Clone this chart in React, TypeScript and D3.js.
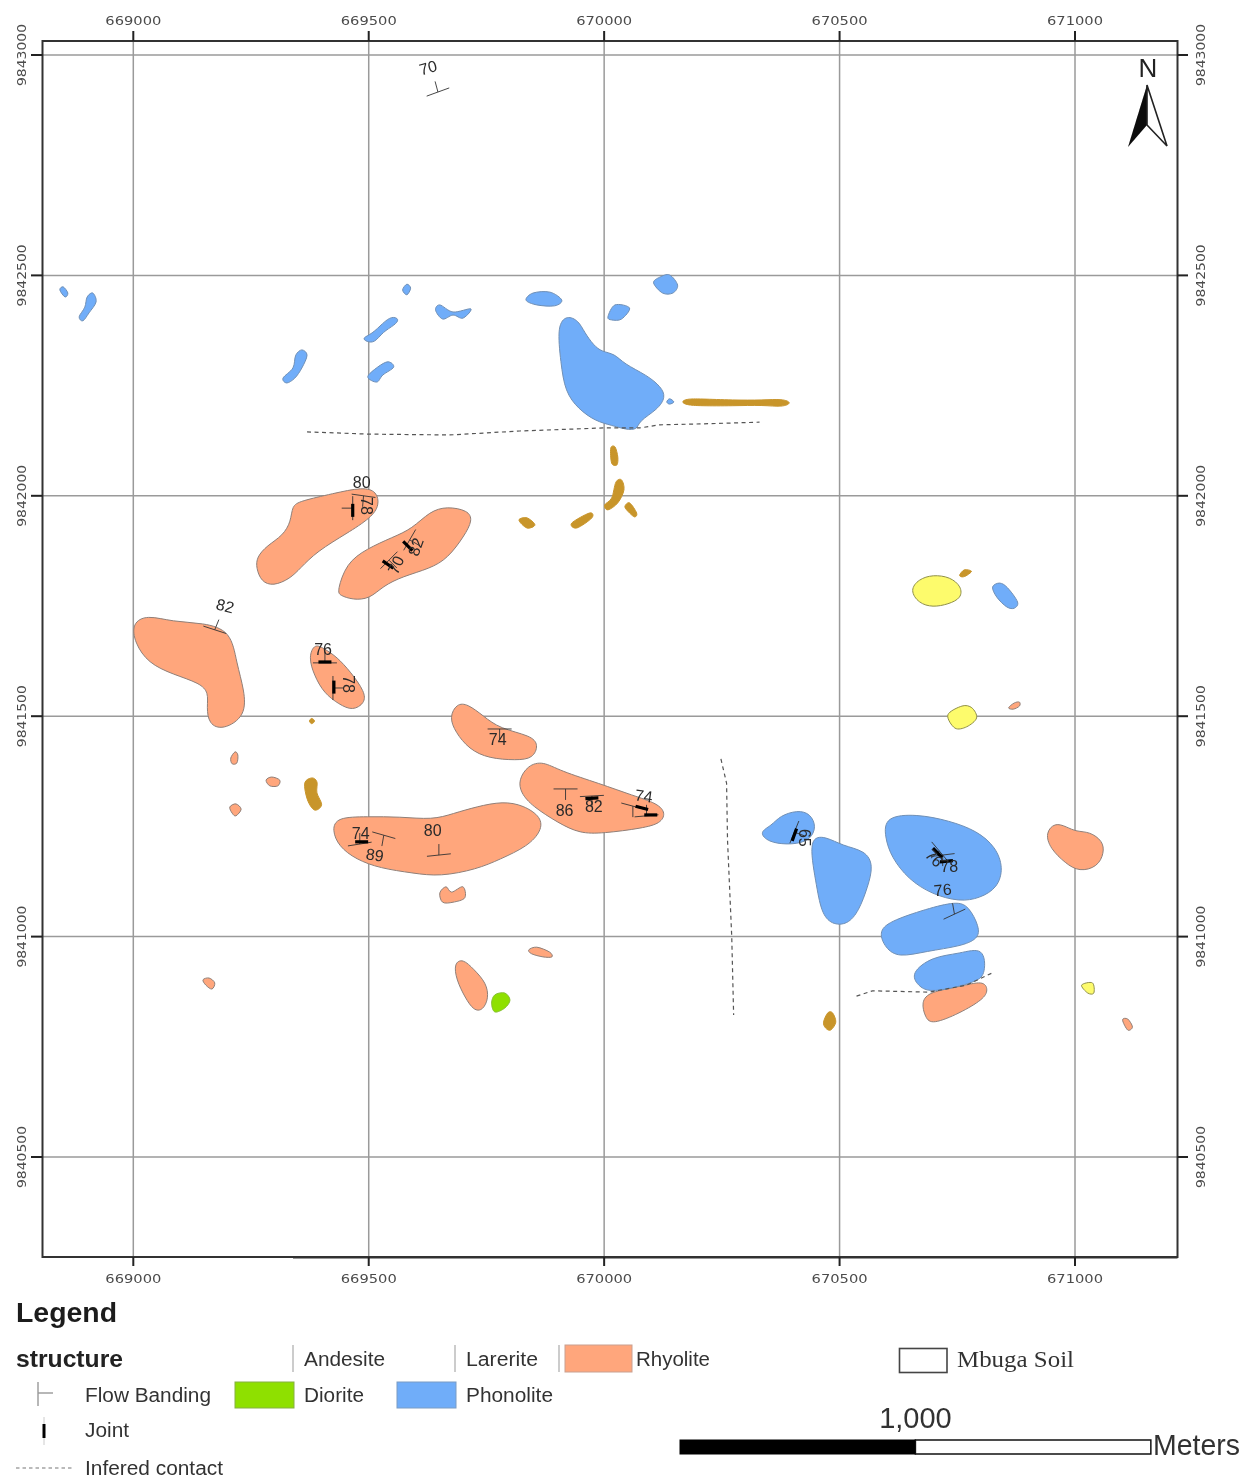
import React from "react";
import * as d3 from "d3";

// All map data are metres east of 669000 and north of 9840000.
type P = [number, number];
const EAST0 = 669000;
const NORTH0 = 9840000;
const eastingTicks = [669000, 669500, 670000, 670500, 671000];
const northingTicks = [9843000, 9842500, 9842000, 9841500, 9841000, 9840500];

const rhyolite: P[][] = [
  [[-3,1711],[29,1730],[84,1714],[148,1712],[208,1694],[219,1621],[236,1559],[239,1500],[190,1468],[160,1482],[156,1521],[160,1553],[142,1575],[84,1595],[32,1620],[3,1666]],
  [[262,1861],[284,1887],[318,1910],[335,1942],[337,1977],[354,1988],[424,2005],[488,2020],[517,2010],[523,1979],[505,1950],[454,1915],[390,1874],[354,1835],[333,1812],[297,1795],[272,1805],[261,1836]],
  [[433,1783],[452,1847],[496,1880],[551,1906],[592,1925],[630,1965],[666,1976],[711,1967],[721,1945],[703,1909],[668,1858],[630,1835],[572,1817],[530,1795],[502,1766],[466,1764],[439,1774]],
  [[372,1634],[385,1666],[407,1652],[432,1635],[462,1600],[492,1555],[492,1530],[466,1512],[437,1527],[405,1552],[384,1593]],
  [[671,1498],[687,1529],[710,1528],[744,1500],[778,1472],[845,1456],[861,1435],[849,1404],[814,1400],[755,1404],[713,1425],[684,1464]],
  [[818,1355],[838,1389],[870,1398],[906,1376],[991,1347],[1061,1320],[1114,1302],[1131,1280],[1120,1257],[1082,1246],[997,1234],[948,1234],[904,1257],[847,1296],[823,1326]],
  [[422,1242],[432,1271],[496,1272],[566,1272],[636,1265],[679,1279],[730,1295],[785,1307],[829,1298],[867,1271],[867,1240],[838,1205],[778,1175],[730,1153],[651,1136],[594,1144],[524,1155],[473,1175],[436,1205]],
  [[651,1099],[664,1113],[676,1101],[700,1113],[704,1088],[679,1078],[657,1078]],
  [[681,940],[700,950],[723,926],[750,895],[755,860],[742,832],[723,832],[705,861],[686,902]],
  [[840,970],[857,976],[884,965],[889,954],[870,954],[846,961]],
  [[207,1405],[216,1419],[222,1412],[220,1394],[210,1392]],
  [[282,1355],[294,1362],[311,1355],[307,1342],[290,1342]],
  [[205,1294],[218,1301],[229,1289],[218,1274],[210,1280]],
  [[148,902],[161,906],[173,895],[167,881],[154,890]],
  [[1937,1235],[1957,1259],[1982,1249],[2003,1238],[2031,1238],[2059,1217],[2062,1190],[2048,1158],[2009,1147],[1980,1166],[1947,1200]],
  [[1673,852],[1691,875],[1755,886],[1806,901],[1816,879],[1806,858],[1755,826],[1696,800],[1682,816]],
  [[1859,1519],[1871,1530],[1882,1532],[1882,1523],[1869,1516]],
  [[2101,811],[2112,813],[2122,795],[2112,788]],
];

const phonolite: P[][] = [
  [[1328,1237],[1356,1252],[1373,1274],[1411,1287],[1438,1279],[1451,1249],[1438,1221],[1415,1212],[1388,1209],[1349,1214]],
  [[1433,1227],[1472,1227],[1506,1206],[1555,1195],[1572,1162],[1560,1113],[1541,1058],[1517,1027],[1483,1027],[1461,1054],[1450,1122]],
  [[1596,1273],[1664,1278],[1733,1263],[1792,1240],[1832,1203],[1848,1156],[1836,1111],[1798,1087],[1755,1079],[1696,1096],[1646,1130],[1610,1180],[1596,1226]],
  [[1583,1010],[1604,1034],[1685,1063],[1748,1080],[1774,1070],[1797,1022],[1795,995],[1757,978],[1685,967],[1625,952],[1597,974]],
  [[1650,917],[1697,955],[1755,961],[1808,978],[1810,915],[1793,899],[1740,883],[1689,874],[1667,888]],
  [[1825,1793],[1840,1802],[1857,1791],[1878,1759],[1871,1745],[1855,1748],[1834,1770]],
  [[900,2387],[921,2410],[946,2397],[958,2371],[978,2341],[995,2327],[1023,2322],[1041,2300],[1092,2273],[1121,2247],[1131,2224],[1114,2196],[1073,2169],[1071,2150],[1046,2150],[1016,2160],[982,2169],[945,2197],[917,2236],[908,2301]],
  [[1105,2483],[1118,2496],[1139,2501],[1156,2478],[1146,2460],[1124,2460]],
  [[834,2444],[849,2460],[885,2462],[910,2444],[895,2431],[857,2433]],
  [[1008,2406],[1023,2433],[1054,2426],[1037,2401],[1016,2399]],
  [[642,2421],[651,2433],[679,2417],[717,2424],[700,2403],[679,2410],[657,2401]],
  [[572,2467],[581,2480],[589,2471],[581,2456]],
  [[485,2358],[507,2367],[530,2392],[549,2408],[566,2401],[555,2387],[530,2372],[513,2347],[496,2349]],
  [[498,2270],[519,2292],[541,2304],[553,2292],[530,2274],[517,2258]],
  [[318,2267],[339,2290],[345,2319],[358,2331],[369,2319],[358,2290],[343,2267],[326,2256]],
  [[-115,2406],[-103,2428],[-98,2451],[-86,2460],[-79,2440],[-94,2415],[-107,2397]],
  [[-156,2467],[-149,2474],[-139,2460],[-145,2451]],
  [[1133,2213],[1139,2220],[1148,2213],[1139,2208]],
];

const laterite: P[][] = [
  [[1163,2213],[1175,2220],[1203,2220],[1273,2217],[1337,2217],[1379,2220],[1400,2211],[1379,2201],[1337,2206],[1273,2204],[1203,2204],[1175,2206]],
  [[1014,2108],[1023,2111],[1029,2088],[1027,2070],[1016,2074]],
  [[1001,1979],[1016,1995],[1025,2031],[1037,2036],[1042,2013],[1029,1984],[1008,1968]],
  [[1044,1975],[1054,1984],[1069,1961],[1065,1952],[1054,1961]],
  [[931,1938],[969,1961],[974,1950],[942,1927]],
  [[819,1945],[836,1950],[853,1934],[836,1927]],
  [[364,1348],[379,1360],[390,1351],[390,1326],[400,1299],[385,1287],[370,1310]],
  [[374,1489],[379,1495],[385,1489],[379,1483]],
  [[1755,1820],[1765,1832],[1780,1829],[1771,1820],[1761,1816]],
  [[1466,806],[1475,827],[1485,827],[1492,806],[1481,788],[1470,793]],
];

const yellowUnit: P[][] = [
  [[1649,1786],[1668,1811],[1698,1821],[1735,1816],[1759,1794],[1759,1768],[1731,1754],[1698,1747],[1668,1756]],
  [[1730,1503],[1760,1523],[1781,1519],[1791,1496],[1770,1476],[1745,1473]],
  [[2014,890],[2037,895],[2040,872],[2027,872]],
];

const diorite: P[][] = [
  [[761,849],[768,868],[789,872],[800,856],[789,838],[768,829]],
];

const inferredContacts: P[][] = [
  [[369,2145],[498,2140],[672,2138],[821,2147],[999,2154],[1076,2154],[1118,2161],[1203,2163],[1330,2167]],
  [[1248,1403],[1260,1348],[1262,1219],[1271,999],[1275,822]],
  [[1536,865],[1570,877],[1691,874],[1770,890],[1829,920]],
];

// easting, northing, strike angle on the sheet, dip tick direction on the sheet
const flowBanding: [number, number, number, number][] = [
  [647,2916,-20,-105],[173,1696,18,-68],[466,1972,90,180],[489,2000,8,95],[778,1471,0,90],
  [918,1335,0,90],[974,1319,-3,90],[1090,1274,-5,-90],[1061,1296,15,90],[481,1210,-9,-90],
  [532,1230,16,100],[649,1185,-6,-90],[407,1621,0,-90],[424,1564,90,0],[543,1854,-45,45],
  [587,1900,-60,30],[1404,1237,-68,20],[1719,1185,-7,90],[1712,1194,50,140],[1744,1051,-25,-100],
];

// easting, northing, angle on the sheet
const joints: [number, number, number][] = [
  [466,1967,90],[407,1623,0],[426,1566,90],[541,1844,35],[583,1886,45],[974,1314,-3],
  [1080,1292,15],[1099,1276,0],[485,1215,0],[1404,1231,-70],[1708,1190,45],[1727,1171,-5],
];

// dip value, easting, northing, rotation
const dipLabels: [string, number, number, number][] = [
  ["70",626,2971,-15],["82",195,1750,15],["80",485,2031,0],["78",496,1977,90],["70",558,1843,-65],
  ["82",600,1884,-70],["76",403,1652,0],["78",456,1573,90],["74",774,1448,0],["86",916,1285,0],
  ["82",978,1296,0],["74",1084,1319,8],["74",483,1235,0],["89",513,1185,8],["80",636,1240,0],
  ["65",1426,1224,90],["76",1701,1178,45],["78",1733,1160,0],["76",1719,1106,-5],
];

const x = d3.scaleLinear().domain([0, 2000]).range([133.3, 1075]);
const y = d3.scaleLinear().domain([500, 3000]).range([1157, 55]);
const FRAME = { l: 42.5, r: 1177.5, t: 41, b: 1257 };

const smoothBlob = d3.line<P>().x(d => x(d[0])).y(d => y(d[1])).curve(d3.curveBasisClosed);
const smallBlob = d3.line<P>().x(d => x(d[0])).y(d => y(d[1])).curve(d3.curveCatmullRomClosed.alpha(0));
const polyline = d3.line<P>().x(d => x(d[0])).y(d => y(d[1]));

const SANS = "'Liberation Sans', Arial, sans-serif";
const AXIS = "'DejaVu Sans', sans-serif";

function Units({ shapes, fill, stroke }: { shapes: P[][]; fill: string; stroke: string }) {
  return (
    <g fill={fill} stroke={stroke} strokeWidth={1} strokeLinejoin="round">
      {shapes.map((s, i) => <path key={i} d={(s.length >= 9 ? smoothBlob(s) : smallBlob(s)) || ""} />)}
    </g>
  );
}

function LegendText({ at, base, w, size = 20, children, weight, family = SANS, fill = "#333" }: any) {
  return (
    <text x={at} y={base} fontSize={size} fontFamily={family} fontWeight={weight} fill={fill}
      textLength={w} lengthAdjust="spacingAndGlyphs">{children}</text>
  );
}

export default function App() {
  const rad = Math.PI / 180;
  return (
    <svg width={1241} height={1478} viewBox="0 0 1241 1478"
      style={{ position: "absolute", left: 0, top: 0, display: "block", background: "#fff" }}>
      <defs>
        <filter id="soft" x="0" y="0" width="100%" height="100%">
          <feGaussianBlur stdDeviation="0.6" />
        </filter>
      </defs>
      <g filter="url(#soft)">
        {/* grid */}
        <g stroke="#9a9a9a" strokeWidth={1.5}>
          {eastingTicks.map(t => (
            <line key={t} x1={x(t - EAST0)} x2={x(t - EAST0)} y1={FRAME.t} y2={FRAME.b} />
          ))}
          {northingTicks.map(t => (
            <line key={t} x1={FRAME.l} x2={FRAME.r} y1={y(t - NORTH0)} y2={y(t - NORTH0)} />
          ))}
        </g>

        {/* geology */}
        <Units shapes={rhyolite} fill="#ffa67c" stroke="#8f7f78" />
        <Units shapes={phonolite} fill="#6fadf9" stroke="#6f8fb5" />
        <Units shapes={laterite} fill="#c8952c" stroke="#c8952c" />
        <Units shapes={yellowUnit} fill="#fdfb6c" stroke="#8f8f4a" />
        <Units shapes={diorite} fill="#8fe006" stroke="#86c030" />

        {/* inferred contacts */}
        <g fill="none" stroke="#555" strokeWidth={1.2} strokeDasharray="4 3.5">
          {inferredContacts.map((c, i) => <path key={i} d={polyline(c) || ""} />)}
        </g>

        {/* flow banding */}
        <g stroke="#333" strokeWidth={0.9}>
          {flowBanding.map(([e, n, s, t], i) => {
            const cx = x(e), cy = y(n);
            const dx = Math.cos(s * rad) * 12, dy = Math.sin(s * rad) * 12;
            return (
              <g key={i}>
                <line x1={cx - dx} y1={cy - dy} x2={cx + dx} y2={cy + dy} />
                <line x1={cx} y1={cy} x2={cx + Math.cos(t * rad) * 11} y2={cy + Math.sin(t * rad) * 11} />
              </g>
            );
          })}
        </g>

        {/* joints */}
        <g stroke="#000" strokeWidth={3.2}>
          {joints.map(([e, n, a], i) => {
            const dx = Math.cos(a * rad) * 6.5, dy = Math.sin(a * rad) * 6.5;
            return <line key={i} x1={x(e) - dx} y1={y(n) - dy} x2={x(e) + dx} y2={y(n) + dy} />;
          })}
        </g>

        {/* dip labels */}
        <g fontFamily={SANS} fontSize={16} fill="#2a2a2a" textAnchor="middle" dominantBaseline="central">
          {dipLabels.map(([t, e, n, r], i) => (
            <text key={i} transform={`translate(${x(e)},${y(n)}) rotate(${r})`}>{t}</text>
          ))}
        </g>

        {/* frame */}
        <rect x={FRAME.l} y={FRAME.t} width={FRAME.r - FRAME.l} height={FRAME.b - FRAME.t}
          fill="none" stroke="#333" strokeWidth={2} />
        <line x1={293} x2={FRAME.r} y1={FRAME.b + 0.8} y2={FRAME.b + 0.8} stroke="#333" strokeWidth={1.6} />

        {/* ticks and tick labels */}
        <g stroke="#222" strokeWidth={2}>
          {eastingTicks.map(t => (
            <g key={t}>
              <line x1={x(t - EAST0)} x2={x(t - EAST0)} y1={31} y2={FRAME.t} />
              <line x1={x(t - EAST0)} x2={x(t - EAST0)} y1={FRAME.b} y2={1266} />
            </g>
          ))}
          {northingTicks.map(t => (
            <g key={t}>
              <line x1={31} x2={FRAME.l} y1={y(t - NORTH0)} y2={y(t - NORTH0)} />
              <line x1={FRAME.r} x2={1188} y1={y(t - NORTH0)} y2={y(t - NORTH0)} />
            </g>
          ))}
        </g>
        <g fontFamily={AXIS} fontSize={12} fill="#4c4c4c" textAnchor="middle">
          {eastingTicks.map(t => (
            <g key={t}>
              <text x={x(t - EAST0)} y={25} textLength={56} lengthAdjust="spacingAndGlyphs">{t}</text>
              <text x={x(t - EAST0)} y={1283} textLength={56} lengthAdjust="spacingAndGlyphs">{t}</text>
            </g>
          ))}
          {northingTicks.map(t => (
            <g key={t}>
              <text transform={`translate(26,${y(t - NORTH0)}) rotate(-90)`} textLength={62} lengthAdjust="spacingAndGlyphs">{t}</text>
              <text transform={`translate(1205,${y(t - NORTH0)}) rotate(-90)`} textLength={62} lengthAdjust="spacingAndGlyphs">{t}</text>
            </g>
          ))}
        </g>

        {/* north arrow */}
        <text x={1148} y={77} textAnchor="middle" fontFamily={SANS} fontSize={26} fill="#222">N</text>
        <path d="M1147,85 L1128,147 L1147,125 Z" fill="#0a0a0a" />
        <path d="M1147,85 L1167,146 L1147,125 Z" fill="#fff" stroke="#222" strokeWidth={1.6} />

        {/* legend */}
        <LegendText at={16} base={1322} w={101} size={27} weight="bold" fill="#1c1c1c">Legend</LegendText>
        <LegendText at={16} base={1367} w={107} size={23} weight="bold" fill="#222">structure</LegendText>

        <line x1={38} x2={38} y1={1382} y2={1406} stroke="#999" strokeWidth={1.4} />
        <line x1={38} x2={53} y1={1393} y2={1393} stroke="#999" strokeWidth={1.4} />
        <LegendText at={85} base={1402} w={126}>Flow Banding</LegendText>

        <line x1={44} x2={44} y1={1417} y2={1445} stroke="#ccc" strokeWidth={1} />
        <line x1={44} x2={44} y1={1424} y2={1438} stroke="#000" strokeWidth={3} />
        <LegendText at={85} base={1437} w={44}>Joint</LegendText>

        <line x1={16} x2={72} y1={1468} y2={1468} stroke="#777" strokeWidth={1.1} strokeDasharray="3.5 3" />
        <LegendText at={85} base={1475} w={138}>Infered contact</LegendText>

        <line x1={293} x2={293} y1={1345} y2={1372} stroke="#aaa" strokeWidth={1.2} />
        <LegendText at={304} base={1366} w={81}>Andesite</LegendText>
        <line x1={455} x2={455} y1={1345} y2={1372} stroke="#aaa" strokeWidth={1.2} />
        <LegendText at={466} base={1366} w={72}>Larerite</LegendText>
        <line x1={559} x2={559} y1={1345} y2={1372} stroke="#aaa" strokeWidth={1.2} />
        <rect x={565} y={1345} width={67} height={27} fill="#ffa67c" stroke="#c9a090" />
        <LegendText at={636} base={1366} w={74}>Rhyolite</LegendText>

        <rect x={235} y={1382} width={59} height={26} fill="#8fe006" stroke="#86b040" />
        <LegendText at={304} base={1402} w={60}>Diorite</LegendText>
        <rect x={397} y={1382} width={59} height={26} fill="#6fadf9" stroke="#7a9cc4" />
        <LegendText at={466} base={1402} w={87}>Phonolite</LegendText>

        <rect x={899.5} y={1348.5} width={47.5} height={24} fill="#fff" stroke="#444" strokeWidth={1.6} />
        <LegendText at={957} base={1367} w={117} size={23} family="'Liberation Serif', serif">Mbuga Soil</LegendText>

        {/* scale bar: one kilometre on the map scale */}
        <text x={680 + x(500) - x(0)} y={1428} textAnchor="middle" fontFamily={SANS} fontSize={29} fill="#333">1,000</text>
        <rect x={680} y={1440} width={x(500) - x(0)} height={14} fill="#000" stroke="#000" />
        <rect x={680 + x(500) - x(0)} y={1440} width={x(1000) - x(500)} height={14} fill="#fff" stroke="#111" strokeWidth={1.5} />
        <LegendText at={1153} base={1455} w={87} size={29}>Meters</LegendText>
      </g>
    </svg>
  );
}
